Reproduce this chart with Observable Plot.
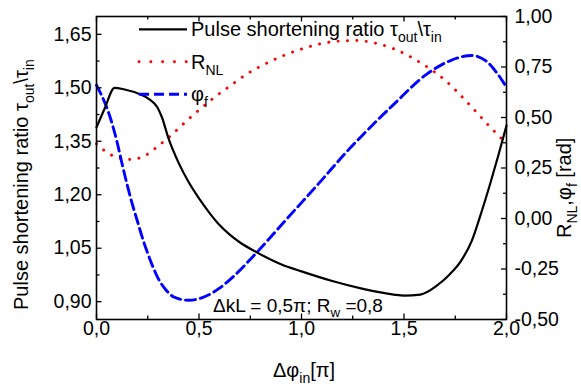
<!DOCTYPE html>
<html><head><meta charset="utf-8">
<script src="https://cdn.jsdelivr.net/npm/d3@7"></script>
<script src="https://cdn.jsdelivr.net/npm/@observablehq/plot@0.6"></script>
<style>
html,body{margin:0;padding:0;background:#fff;}
#chart{width:581px;height:387px;overflow:hidden;}
svg text{font-family:"Liberation Sans",Arial,sans-serif;}
</style></head><body><div id="chart"></div>
<script>
// Pulse shortening ratio (left axis)
const ratioX = [0, 0.04, 0.088, 0.133, 0.215, 0.26, 0.296, 0.32, 0.35, 0.40, 0.45, 0.50, 0.55, 0.60, 0.65, 0.70, 0.78, 0.90, 1.00, 1.15, 1.30, 1.45, 1.50, 1.58, 1.66, 1.72, 1.78, 1.83, 1.87, 1.92, 1.96, 2.0];
const ratioY = [1.389, 1.442, 1.500, 1.496, 1.481, 1.467, 1.446, 1.416, 1.36, 1.29, 1.235, 1.19, 1.15, 1.115, 1.088, 1.066, 1.039, 1.005, 0.985, 0.958, 0.936, 0.920, 0.917, 0.920, 0.945, 0.975, 1.016, 1.07, 1.137, 1.23, 1.31, 1.394];
// R_NL (right axis)
const rnlX = [0, 0.04, 0.077, 0.12, 0.166, 0.231, 0.30, 0.348, 0.459, 0.572, 0.654, 0.735, 0.857, 0.979, 1.093, 1.18, 1.27, 1.36, 1.45, 1.589, 1.702, 1.808, 1.898, 2.0];
const rnlY = [0.37, 0.335, 0.312, 0.297, 0.292, 0.308, 0.358, 0.398, 0.501, 0.597, 0.658, 0.716, 0.782, 0.832, 0.865, 0.878, 0.881, 0.868, 0.840, 0.766, 0.683, 0.576, 0.477, 0.37];
// phi_f (right axis)
const phiX = [0, 0.02, 0.04, 0.07, 0.10, 0.125, 0.15, 0.175, 0.20, 0.23, 0.26, 0.30, 0.34, 0.38, 0.45, 0.52, 0.60, 0.654, 0.78, 0.93, 1.09, 1.22, 1.30, 1.45, 1.613, 1.727, 1.83, 1.90, 1.95, 2.0];
const phiY = [0.66, 0.62, 0.575, 0.49, 0.38, 0.27, 0.165, 0.07, -0.015, -0.115, -0.20, -0.295, -0.355, -0.39, -0.405, -0.39, -0.345, -0.30, -0.17, 0.00, 0.18, 0.33, 0.415, 0.565, 0.716, 0.782, 0.807, 0.78, 0.725, 0.65];

const xDomain = [0, 2];
const leftDomain = [0.85, 1.70];
const rightDomain = [-0.5, 1.0];
const xTicks = [0, 0.5, 1.0, 1.5, 2.0];
const xMinor = [0.25, 0.75, 1.25, 1.75];
const leftTicks = [0.90, 1.05, 1.20, 1.35, 1.50, 1.65];
const leftMinor = [0.975, 1.125, 1.275, 1.425, 1.575];
const rightTicks = [-0.5, -0.25, 0, 0.25, 0.5, 0.75, 1.0];
const rightMinor = [-0.375, -0.125, 0.125, 0.375, 0.625, 0.875];

const toLeft = r => leftDomain[0] + (r - rightDomain[0]) * (leftDomain[1] - leftDomain[0]) / (rightDomain[1] - rightDomain[0]);
const toRight = l => Math.round((rightDomain[0] + (l - leftDomain[0]) * (rightDomain[1] - rightDomain[0]) / (leftDomain[1] - leftDomain[0])) * 1000) / 1000;
const fmt = (d, n) => d.toFixed(n).replace('.', ',');

const ratioData = ratioX.map((x, i) => ({x, y: ratioY[i]}));
const rnlData = rnlX.map((x, i) => ({x, y: toLeft(rnlY[i])}));
const phiData = phiX.map((x, i) => ({x, y: toLeft(phiY[i])}));

const W = 581, H = 387, mL = 96, mR = 75, mT = 16, mB = 68;
const innerW = W - mL - mR, innerH = H - mT - mB;
const FS = 19.5;
const RED = "#ff0000", BLUE = "#0000ff";
const redDash = "0.1 9.3", blueDash = "10 5";

const svg = Plot.plot({
  width: W, height: H,
  marginLeft: mL, marginRight: mR, marginTop: mT, marginBottom: mB,
  x: {domain: xDomain, label: null},
  y: {domain: leftDomain, label: null},
  style: {fontFamily: "Liberation Sans, Arial, sans-serif", fontSize: FS + "px", color: "black", background: "white", overflow: "visible"},
  marks: [
    Plot.line(rnlData, {x: "x", y: "y", stroke: RED, strokeWidth: 2.9, strokeDasharray: redDash, strokeLinecap: "round", curve: "monotone-x"}),
    Plot.line(phiData, {x: "x", y: "y", stroke: BLUE, strokeWidth: 2.9, strokeDasharray: blueDash, curve: "monotone-x"}),
    Plot.line(ratioData, {x: "x", y: "y", stroke: "black", strokeWidth: 2.2, curve: "monotone-x"}),
    Plot.frame({stroke: "black", strokeWidth: 1.6}),
    Plot.tickX(xTicks, {x: d => d, insetTop: innerH - 5.5, stroke: "black", strokeWidth: 1.3}),
    Plot.tickX(xMinor, {x: d => d, insetTop: innerH - 3.5, stroke: "black", strokeWidth: 1.3}),
    Plot.tickX(xTicks, {x: d => d, insetBottom: innerH - 5.5, stroke: "black", strokeWidth: 1.3}),
    Plot.tickX(xMinor, {x: d => d, insetBottom: innerH - 3.5, stroke: "black", strokeWidth: 1.3}),
    Plot.tickY(leftTicks, {y: d => d, insetRight: innerW - 5.5, stroke: "black", strokeWidth: 1.3}),
    Plot.tickY(leftMinor, {y: d => d, insetRight: innerW - 3.5, stroke: "black", strokeWidth: 1.3}),
    Plot.tickY(rightTicks.map(toLeft), {y: d => d, insetLeft: innerW - 5, stroke: "black", strokeWidth: 1.3}),
    Plot.tickY(rightMinor.map(toLeft), {y: d => d, insetLeft: innerW - 3, stroke: "black", strokeWidth: 1.3}),
    Plot.axisX(xTicks, {anchor: "bottom", tickSize: 0, tickPadding: 2, tickFormat: d => fmt(d, 1), fontSize: FS, label: null}),
    Plot.axisY(leftTicks, {anchor: "left", tickSize: 0, tickPadding: 5, tickFormat: d => fmt(d, 2), fontSize: FS, label: null}),
    Plot.axisY(rightTicks.map(toLeft), {anchor: "right", tickSize: 0, tickPadding: 8, tickFormat: d => fmt(toRight(d), 2), fontSize: FS, label: null})
  ]
});
document.getElementById("chart").appendChild(svg);

// Rich text helper (subscripts as tspans)
const S = d3.select(svg);
function rich(x, y, parts, {size = 20, rotate = 0, anchor = "start"} = {}) {
  const t = S.append("text")
    .attr("transform", `translate(${x},${y}) rotate(${rotate})`)
    .attr("text-anchor", anchor)
    .attr("font-size", size)
    .attr("fill", "black")
    .style("font-family", "Liberation Sans, Arial, sans-serif");
  let shifted = false;
  parts.forEach(([s, sub]) => {
    const ts = t.append("tspan").text(s);
    if (sub && !shifted) { ts.attr("dy", size * 0.3).attr("font-size", size * 0.7); shifted = true; }
    else if (sub) { ts.attr("font-size", size * 0.7); }
    else if (shifted) { ts.attr("dy", -size * 0.3); shifted = false; }
  });
  return t;
}

// Axis titles
rich(28, 310, [["Pulse shortening ratio τ"], ["out", 1], ["\\τ"], ["in", 1]], {rotate: -90});
rich(571, 238, [["R"], ["NL", 1], [",φ"], ["f", 1], [" [rad]"]], {rotate: -90});
rich(273, 377, [["Δφ"], ["in", 1], ["[π]"]]);
// Annotation
rich(213, 311.5, [["ΔkL = 0,5π; R"], ["w", 1], [" =0,8"]], {size: 19});

// Legend
const legend = [
  {y: 29.3, stroke: "black", width: 2.2, dash: null, cap: "butt", parts: [["Pulse shortening ratio τ"], ["out", 1], ["\\τ"], ["in", 1]]},
  {y: 61.7, stroke: RED, width: 2.9, dash: "0.1 11.7", cap: "round", parts: [["R"], ["NL", 1]]},
  {y: 94.3, stroke: BLUE, width: 2.9, dash: "10 5", cap: "butt", parts: [["φ"], ["f", 1]]}
];
legend.forEach(l => {
  S.append("line").attr("x1", 139).attr("x2", 187).attr("y1", l.y).attr("y2", l.y)
    .attr("stroke", l.stroke).attr("stroke-width", l.width)
    .attr("stroke-dasharray", l.dash).attr("stroke-linecap", l.cap);
  rich(191, l.y + 7, l.parts, {size: 20});
});
</script></body></html>
